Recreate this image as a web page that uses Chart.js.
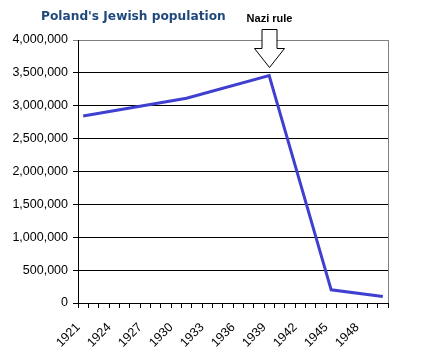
<!DOCTYPE html>
<html><head><meta charset="utf-8">
<script src="https://cdn.jsdelivr.net/npm/chart.js@4/dist/chart.umd.min.js"></script>
<style>html,body{margin:0;padding:0;background:#fff;}#wrap{width:435px;height:356px;position:relative;}</style>
</head><body><div id="wrap"><canvas id="c" width="435" height="356"></canvas></div>
<script>
const years = ['1921','1922','1923','1924','1925','1926','1927','1928','1929','1930',
               '1931','1932','1933','1934','1935','1936','1937','1938','1939','1940',
               '1941','1942','1943','1944','1945','1946','1947','1948','1949','1950'];
const jewishPopulation = [2845000, null, null, null, null, null, null, null, null, null,
                          3114000, null, null, null, null, null, null, null,
                          3460000, null, null, null, null, null,
                          200000, null, null, null, null,
                          100000];
const xTickLabels = ['1921','1924','1927','1930','1933','1936','1939','1942','1945','1948'];
const yTickMax = 4000000;
const yTickStep = 500000;
const titleText = "Poland's Jewish population";
const annotationText = 'Nazi rule';
const annotationYear = '1939';

const axisFont = {family: '"Liberation Sans", Arial, sans-serif', size: 12.5};

const overlay = {
  id: 'overlay',
  afterDraw(chart) {
    const ctx = chart.ctx;
    ctx.save();
    ctx.font = 'bold 12.2px "DejaVu Sans"';
    ctx.fillStyle = '#1F497D';
    ctx.textBaseline = 'alphabetic';
    ctx.textAlign = 'left';
    ctx.fillText(titleText, 41, 20);

    const xs = chart.scales.x, ys = chart.scales.y;
    const idx = years.indexOf(annotationYear);
    const x = Math.round(xs.getPixelForValue(idx)) + 0.5;
    const peakY = ys.getPixelForValue(jewishPopulation[idx]);
    const tip = Math.round(peakY - 9) + 0.5;
    const headTop = tip - 19;
    const top = tip - 38;
    ctx.beginPath();
    ctx.moveTo(x - 7.5, top);
    ctx.lineTo(x + 7.5, top);
    ctx.lineTo(x + 7.5, headTop);
    ctx.lineTo(x + 15, headTop);
    ctx.lineTo(x, tip);
    ctx.lineTo(x - 15, headTop);
    ctx.lineTo(x - 7.5, headTop);
    ctx.closePath();
    ctx.fillStyle = '#fff';
    ctx.fill();
    ctx.strokeStyle = '#000';
    ctx.lineWidth = 1;
    ctx.stroke();

    ctx.font = 'bold 11px "Liberation Sans", Arial, sans-serif';
    ctx.fillStyle = '#000';
    ctx.textAlign = 'center';
    ctx.fillText(annotationText, x, top - 7.5);
    ctx.restore();
  }
};

new Chart(document.getElementById('c'), {
  type: 'line',
  data: {
    labels: years,
    datasets: [{
      data: jewishPopulation,
      borderColor: '#4040D0',
      borderWidth: 3,
      pointRadius: 0,
      tension: 0,
      spanGaps: true,
      fill: false
    }]
  },
  options: {
    responsive: false,
    animation: false,
    devicePixelRatio: 1,
    layout: {padding: {left: 0, top: 40, right: 47, bottom: 0}},
    plugins: {legend: {display: false}, tooltip: {enabled: false}, title: {display: false}},
    scales: {
      x: {
        type: 'category',
        offset: true,
        grid: {
          offset: true,
          drawOnChartArea: true,
          color: c => c.type === 'tick' ? 'rgba(0,0,0,0)' : '#808080',
          tickColor: '#000',
          tickLength: 5,
          lineWidth: 1
        },
        border: {color: '#000', width: 1},
        ticks: {
          autoSkip: false,
          maxRotation: 45,
          minRotation: 45,
          padding: 12,
          labelOffset: -5,
          color: '#000',
          font: axisFont,
          callback: function(v) {
            const l = this.getLabelForValue(v);
            return xTickLabels.includes(l) ? l : '';
          }
        },
        afterFit: s => { s.height = 53; }
      },
      y: {
        min: 0,
        max: yTickMax,
        ticks: {
          stepSize: yTickStep,
          color: '#000',
          font: axisFont,
          padding: 5,
          callback: v => Number(v).toLocaleString('en-US')
        },
        grid: {
          color: c => (c.tick && c.tick.value === yTickMax) ? '#808080' : '#000',
          tickLength: 5,
          lineWidth: 1
        },
        border: {color: '#000', width: 1},
        afterFit: s => { s.width = 78; }
      }
    }
  },
  plugins: [overlay]
});
</script>
</body></html>
